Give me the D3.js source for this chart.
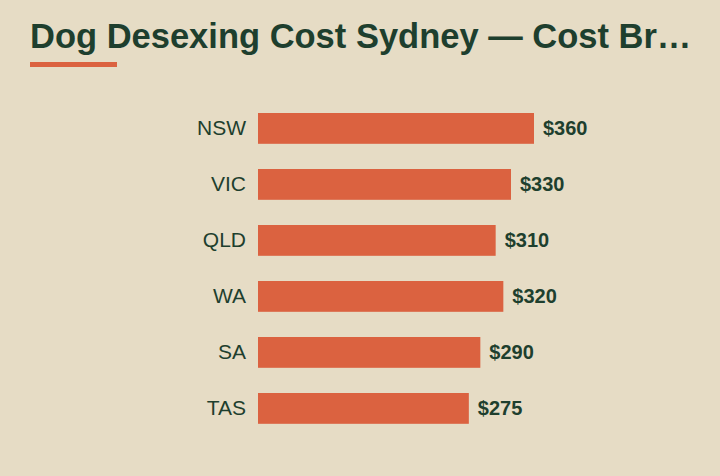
<!DOCTYPE html>
<html><head><meta charset="utf-8">
<script src="https://cdn.jsdelivr.net/npm/d3@7"></script>
<style>
html,body{margin:0;padding:0;background:#e6dcc5;}
svg{display:block;font-family:"Liberation Sans",Arial,sans-serif;}
</style></head>
<body>
<svg id="chart" width="720" height="476"></svg>
<script>
const title = "Dog Desexing Cost Sydney — Cost Br…";
const categories = ["NSW","VIC","QLD","WA","SA","TAS"];
const values = [360,330,310,320,290,275];
const valueLabels = ["$360","$330","$310","$320","$290","$275"];

const svg = d3.select("#chart");
svg.append("rect").attr("width",720).attr("height",476).attr("fill","#e6dcc5");

svg.append("text").attr("x",30).attr("y",48)
  .attr("font-size",34.5).attr("font-weight","bold").attr("fill","#1e3f2e")
  .text(title);
svg.append("rect").attr("x",30).attr("y",62).attr("width",87).attr("height",5).attr("fill","#db6240");

const x = d3.scaleLinear().domain([0,360]).range([258,534]);
const y = d3.scaleBand().domain(categories).range([100.4,436.4]).paddingInner(0.45).paddingOuter(0.225);

const data = categories.map((c,i)=>({c, v:values[i], l:valueLabels[i]}));

svg.selectAll("rect.bar").data(data).join("rect").attr("class","bar")
  .attr("x",x(0)).attr("y",d=>y(d.c)).attr("width",d=>x(d.v)-x(0)).attr("height",y.bandwidth())
  .attr("fill","#db6240");

svg.selectAll("text.cat").data(data).join("text").attr("class","cat")
  .attr("x",x(0)-12).attr("y",d=>y(d.c)+y.bandwidth()/2).attr("dy","0.33em")
  .attr("text-anchor","end").attr("font-size",21).attr("fill","#1e3f2e").text(d=>d.c);

svg.selectAll("text.val").data(data).join("text").attr("class","val")
  .attr("x",d=>x(d.v)+9).attr("y",d=>y(d.c)+y.bandwidth()/2).attr("dy","0.33em")
  .attr("font-size",20).attr("font-weight","bold").attr("fill","#1e3f2e").text(d=>d.l);
</script>
</body></html>
